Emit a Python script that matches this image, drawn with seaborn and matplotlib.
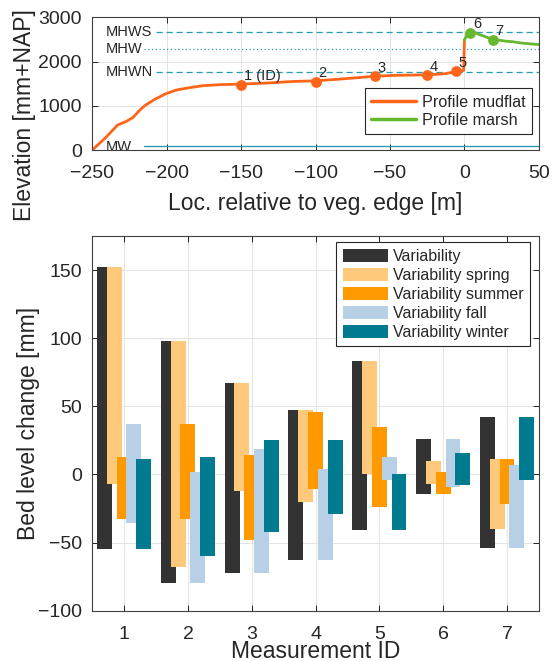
import numpy as np
import pandas as pd
import matplotlib
matplotlib.use("Agg")
import matplotlib.pyplot as plt
import seaborn as sns

# --- profile data ---
mud_x = [-250, -241, -233, -227, -222.5, -218, -214.7, -208, -201, -193.5, -184.6,
         -175.6, -164.4, -150, -130, -115, -100, -85, -70, -60, -45, -25, -13,
         -6, -2, -0.5, 0]
mud_y = [0, 280, 565, 650, 739, 905, 1003, 1146, 1267, 1357, 1410,
         1455, 1478, 1490, 1520, 1550, 1565, 1600, 1640, 1670, 1690, 1700, 1725,
         1770, 1790, 1800, 2480]
marsh_x = [0, 2, 4, 7, 10, 14, 19, 24, 28, 32, 38, 44, 50]
marsh_y = [2490, 2620, 2654, 2660, 2610, 2563, 2500, 2480, 2460, 2450, 2420, 2400, 2385]

pt_x = [-150, -100, -60, -25, -6, 4, 19]
pt_y = [1475, 1545, 1665, 1697, 1787, 2654, 2495]
pt_lab = ["1 (ID)", "2", "3", "4", "5", "6", "7"]

ref_names = ["MHWS", "MHW", "MHWN", "MW"]
ref_levels = [2660, 2280, 1760, 90]

# --- bed level variability (min / max per measurement ID) ---
ids = [1, 2, 3, 4, 5, 6, 7]
series = ["Variability", "Variability spring", "Variability summer",
          "Variability fall", "Variability winter"]
low = {
    "Variability":        [-55, -80, -72, -63, -41, -14, -54],
    "Variability spring": [-7, -68, -12, -20, 0, -7, -40],
    "Variability summer": [-33, -33, -48, -11, -24, -14, -22],
    "Variability fall":   [-36, -80, -72, -63, -4, -9, -54],
    "Variability winter": [-55, -60, -42, -29, -41, -8, -4],
}
high = {
    "Variability":        [152, 98, 67, 47, 83, 26, 42],
    "Variability spring": [152, 98, 67, 47, 83, 10, 11.5],
    "Variability summer": [13, 37, 14, 46, 35, 2, 11],
    "Variability fall":   [37, 1.5, 19, 4, 13, 26, 7],
    "Variability winter": [11, 13, 25, 25, 0, 16, 42],
}

orange = "#ff6419"
green = "#66b82e"
ref_col = "#2a9db5"
bar_cols = ["#333333", "#ffc97c", "#ff9900", "#b7d0e6", "#007a8f"]
dark = "#262626"

sns.set_theme(style="whitegrid")
plt.rcParams["font.family"] = ["Liberation Sans", "DejaVu Sans"]
plt.rcParams.update({
    "axes.edgecolor": "#404040",
    "axes.linewidth": 0.8,
    "grid.color": "#e3e3e3",
    "grid.linewidth": 0.7,
    "xtick.direction": "in",
    "ytick.direction": "in",
    "text.color": dark,
    "axes.labelcolor": dark,
    "xtick.color": dark,
    "ytick.color": dark,
})

fig = plt.figure(figsize=(5.59, 6.61), dpi=100)
ax1 = fig.add_axes([0.165, 0.773, 0.799, 0.2008])
ax2 = fig.add_axes([0.165, 0.0761, 0.799, 0.5669])

# ---------- top panel ----------
styles = [dict(ls=(0, (5, 3)), lw=0.9), dict(ls=(0, (1, 2)), lw=0.9),
          dict(ls=(0, (5, 3)), lw=0.9), dict(ls="-", lw=1.0)]
starts = [-207, -215, -207, -215]
for name, lev, st, x0 in zip(ref_names, ref_levels, styles, starts):
    ax1.plot([x0, 50], [lev, lev], color=ref_col, zorder=2, **st)
    ax1.text(-241, lev - (20 if name == "MW" else 0), name, ha="left", va="center",
             fontsize=10.5, color=dark, clip_on=True, zorder=3)

sns.lineplot(x=mud_x, y=mud_y, ax=ax1, color=orange, lw=2, sort=False,
             estimator=None, label="Profile mudflat", zorder=4)
sns.lineplot(x=marsh_x, y=marsh_y, ax=ax1, color=green, lw=2, sort=False,
             estimator=None, label="Profile marsh", zorder=4)
sns.scatterplot(x=pt_x[:5], y=pt_y[:5], ax=ax1, color=orange, s=60,
                linewidth=0, zorder=5, legend=False)
sns.scatterplot(x=pt_x[5:], y=pt_y[5:], ax=ax1, color=green, s=60,
                linewidth=0, zorder=5, legend=False)
for x, y, t in zip(pt_x, pt_y, pt_lab):
    ax1.annotate(t, (x, y), xytext=(2, 6), textcoords="offset points",
                 ha="left", va="center", fontsize=10.5, color=dark, zorder=6)

ax1.set_xlim(-250, 50)
ax1.set_ylim(0, 3000)
ax1.set_xticks(np.arange(-250, 51, 50))
ax1.set_yticks([0, 1000, 2000, 3000])
ax1.set_xlabel("Loc. relative to veg. edge [m]", fontsize=16.5, labelpad=7)
ax1.set_ylabel("Elevation [mm+NAP]", fontsize=16.5)
ax1.yaxis.set_label_coords(-0.127, 0.26)
leg1 = ax1.legend(loc="lower right", bbox_to_anchor=(0.985, 0.118),
                  borderaxespad=0, fontsize=11.6, fancybox=False, framealpha=1,
                  edgecolor=dark, handlelength=2.8, handletextpad=0.35,
                  labelspacing=0.2, borderpad=0.4)
leg1.get_frame().set_linewidth(0.8)
for h in leg1.get_lines():
    h.set_linewidth(2.5)

# ---------- bottom panel ----------
offsets = [-0.308, -0.154, 0.0, 0.154, 0.308]
width = 0.234
xs = np.array(ids, dtype=float)
for s, off, col in zip(series, offsets, bar_cols):
    lo = np.array(low[s], dtype=float)
    hi = np.array(high[s], dtype=float)
    ax2.bar(xs + off, hi - lo, width=width, bottom=lo, color=col,
            edgecolor="none", label=s, zorder=3)

ax2.set_xlim(0.5, 7.5)
ax2.set_ylim(-100, 175)
ax2.set_xticks(ids)
ax2.set_yticks(np.arange(-100, 151, 50))
ax2.set_xlabel("Measurement ID", fontsize=16.5, labelpad=-2.5)
ax2.set_ylabel("Bed level change [mm]", fontsize=16.5)
ax2.yaxis.set_label_coords(-0.117, 0.5)
leg2 = ax2.legend(loc="upper right", bbox_to_anchor=(0.981, 0.983),
                  borderaxespad=0, fontsize=11.5, fancybox=False, framealpha=1,
                  edgecolor=dark, handlelength=2.85, handleheight=0.88,
                  handletextpad=0.32, labelspacing=0.25, borderpad=0.4)
leg2.get_frame().set_linewidth(0.8)

for ax in (ax1, ax2):
    ax.grid(True, zorder=0)
    ax.set_axisbelow(True)
    ax.tick_params(axis="both", which="both", direction="in", length=4,
                   width=0.7, top=True, right=True, labelsize=14,
                   bottom=True, left=True)
    ax.tick_params(axis="x", pad=11)
    ax.tick_params(axis="y", pad=7.5)
    for sp in ax.spines.values():
        sp.set_visible(True)
        sp.set_zorder(10)

fig.savefig("out.png", dpi=100)
